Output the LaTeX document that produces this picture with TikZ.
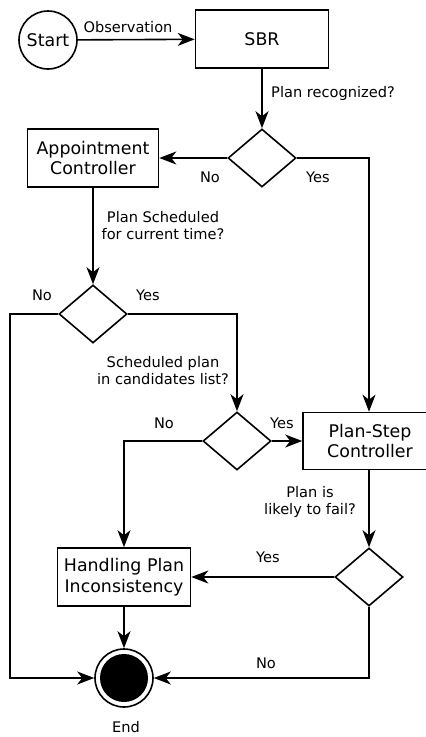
\documentclass[tikz,border=0pt]{standalone}
\usepackage{fontspec}
\setmainfont{DejaVu Sans}
\usetikzlibrary{shapes.geometric,arrows.meta}

\newcommand\boxfont{\fontsize{17.4}{20.5}\selectfont}
\newcommand\lblfont{\fontsize{14.6}{17}\selectfont}
\tikzstyle{box}=[draw=black,line width=1.6pt,rectangle,minimum height=58pt,font=\boxfont,align=center]
\tikzstyle{decision}=[draw=black,line width=1.6pt,diamond,minimum width=68pt,minimum height=58pt,inner sep=0pt]
\tikzstyle{startstate}=[draw=black,line width=1.6pt,circle,minimum size=58pt,inner sep=0pt,font=\boxfont]
\tikzstyle{endstate}=[draw=black,line width=1.6pt,circle,minimum size=58pt,inner sep=0pt,
	path picture={\fill[black] (path picture bounding box.center) circle (24pt);}]
\tikzstyle{lbl}=[font=\lblfont,align=center]
\tikzstyle{flow}=[line width=1.6pt,-{Stealth[length=17pt,width=13pt,inset=5pt]}]

\begin{document}
\begin{tikzpicture}[x=1pt,y=-1pt]
	%frame
	\useasboundingbox (0,0) rectangle (426,737);
	%states
	\node[startstate] (start) at (48,40) {Start};
	\node[endstate] (end) at (124,678) {};
	\node[lbl] (endlbl) at (126,727) {End};
	%boxes
	\node[box,minimum width=133pt] (sbr) at (262,39) {SBR};
	\node[box,minimum width=131pt] (appt) at (93,158) {Appointment\\Controller};
	\node[box,minimum width=134pt,minimum height=57pt] (psc) at (370,441) {Plan-Step\\Controller};
	\node[box,minimum width=133pt] (hpi) at (124,577) {Handling Plan\\Inconsistency};
	%decisions
	\node[decision] (d1) at (262,158) {};
	\node[decision] (d2) at (93,314) {};
	\node[decision] (d3) at (237,441) {};
	\node[decision] (d4) at (369,577) {};
	\coordinate (corner) at (10,678);
	%connectors
	\draw[flow] (start) -- (sbr);
	\draw[flow] (sbr) -- (d1);
	\draw[flow] (d1) -- (appt);
	\draw[flow] (d1.east) -| (d4.north |- psc.north);
	\draw[flow] (appt) -- (d2);
	\draw[flow] (d2.west) -| (corner) -- (end);
	\draw[flow] (d2.east) -| (d3.north);
	\draw[flow] (d3) -- (psc);
	\draw[flow] (d3.west) -| (hpi.north);
	\draw[flow] (d4.north |- psc.south) -- (d4);
	\draw[flow] (d4) -- (hpi);
	\draw[flow] (d4.south) |- (end.east);
	\draw[flow] (hpi) -- (end);
	%labels
	\node[lbl] (obs) at (128,27) {Observation};
	\node[lbl] (q1) at (333,93) {Plan recognized?};
	\node[lbl] (no1) at (210,177) {No};
	\node[lbl] (yes1) at (318,177) {Yes};
	\node[lbl] (q2) at (163,226) {Plan Scheduled\\for current time?};
	\node[lbl] (no2) at (42,295) {No};
	\node[lbl] (yes2) at (148,295) {Yes};
	\node[lbl] (q3) at (163,371) {Scheduled plan\\in candidates list?};
	\node[lbl] (no3) at (164,423) {No};
	\node[lbl] (yes3) at (282,423) {Yes};
	\node[lbl] (q4) at (310,502) {Plan is\\likely to fail?};
	\node[lbl] (yes4) at (268,557) {Yes};
	\node[lbl] (no4) at (266,663) {No};
\end{tikzpicture}
\end{document}
